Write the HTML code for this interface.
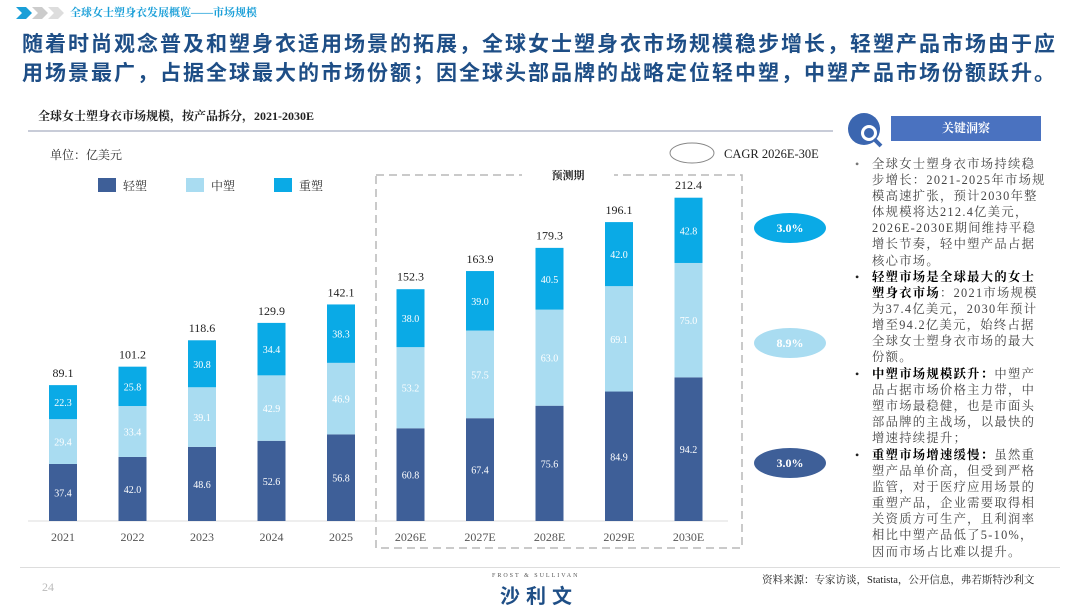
<!DOCTYPE html>
<html><head><meta charset="utf-8">
<style>
body{margin:0;width:1080px;height:608px;background:#fff;overflow:hidden;position:relative;font-family:"Liberation Serif","Noto Serif CJK SC",serif;}
.abs{position:absolute;}
.ins{position:absolute;left:872px;font-size:12.3px;line-height:16.1px;color:#444;letter-spacing:1.3px;white-space:nowrap;}
.bul{position:absolute;left:855px;font-size:12px;color:#222;}
</style></head><body>
<div class="abs" style="left:16px;top:6px;">
<svg width="50" height="14"><polygon points="0,1 10,1 16,7 10,13 0,13 6,7" fill="#1a9fd8"/><polygon points="16,1 26,1 32,7 26,13 16,13 22,7" fill="#ccc"/><polygon points="32,1 42,1 48,7 42,13 32,13 38,7" fill="#ddd"/></svg></div>
<div class="abs" style="left:70px;top:4px;font-size:11px;color:#1a9fd8;font-weight:bold;">全球女士塑身衣发展概览——市场规模</div>
<div class="abs" style="left:22px;top:30px;white-space:nowrap;font-size:21px;line-height:29px;color:#1e4e86;font-weight:bold;letter-spacing:2px;font-family:'Liberation Sans','Noto Sans CJK SC',sans-serif;">随着时尚观念普及和塑身衣适用场景的拓展，全球女士塑身衣市场规模稳步增长，轻塑产品市场由于应<br>用场景最广，占据全球最大的市场份额；因全球头部品牌的战略定位轻中塑，中塑产品市场份额跃升。</div>
<div class="abs" style="left:38px;top:107px;font-size:12px;font-weight:bold;color:#222;">全球女士塑身衣市场规模，按产品拆分，2021-2030E</div>
<div class="abs" style="left:28px;top:130px;width:805px;height:2px;background:#c8ccd8;"></div>
<div class="abs" style="left:50px;top:146px;font-size:12px;color:#333;">单位：亿美元</div>

<svg class="abs" style="left:0;top:0" width="830" height="608" id="chart"></svg>

<div class="abs" style="left:847px;top:112px;">
<svg width="40" height="36"><circle cx="17" cy="17" r="16" fill="#3b66b0"/><circle cx="22" cy="21" r="8" fill="#fff"/><circle cx="22" cy="21" r="5" fill="#3b66b0"/><line x1="27" y1="27" x2="34" y2="34" stroke="#3b66b0" stroke-width="4"/></svg></div>
<div class="abs" style="left:891px;top:116px;width:150px;height:25px;background:#4a72c0;color:#fff;font-size:12px;font-weight:bold;text-align:center;line-height:25px;">关键洞察</div>
<div>
<div class="bul" style="top:157px;color:#777">•</div>
<div class="ins" style="top:156px;">全球女士塑身衣市场持续稳<br>步增长：2021-2025年市场规<br>模高速扩张，预计2030年整<br>体规模将达212.4亿美元，<br>2026E-2030E期间维持平稳<br>增长节奏，轻中塑产品占据<br>核心市场。</div>
<div class="bul" style="top:270px;">•</div>
<div class="ins" style="top:269px;"><b style="color:#000">轻塑市场是全球最大的女士<br>塑身衣市场</b>：2021市场规模<br>为37.4亿美元，2030年预计<br>增至94.2亿美元，始终占据<br>全球女士塑身衣市场的最大<br>份额。</div>
<div class="bul" style="top:367px;">•</div>
<div class="ins" style="top:366px;"><b style="color:#000">中塑市场规模跃升：</b>中塑产<br>品占据市场价格主力带，中<br>塑市场最稳健，也是市面头<br>部品牌的主战场，以最快的<br>增速持续提升；</div>
<div class="bul" style="top:448px;">•</div>
<div class="ins" style="top:447px;"><b style="color:#000">重塑市场增速缓慢：</b>虽然重<br>塑产品单价高，但受到严格<br>监管，对于医疗应用场景的<br>重塑产品，企业需要取得相<br>关资质方可生产，且利润率<br>相比中塑产品低了5-10%，<br>因而市场占比难以提升。</div>
</div>
<div class="abs" style="left:20px;top:567px;width:1040px;height:1px;background:#ddd;"></div>
<div class="abs" style="left:42px;top:580px;font-size:12px;color:#bbb;">24</div>
<div class="abs" style="left:492px;top:573px;font-size:6px;letter-spacing:2px;color:#555;">FROST &amp; SULLIVAN</div>
<div class="abs" style="left:500px;top:580px;font-size:20px;font-weight:bold;color:#1e4e86;letter-spacing:6px;font-family:'Liberation Sans','Noto Sans CJK SC',sans-serif;">沙利文</div>
<div class="abs" style="left:762px;top:572px;font-size:10.5px;color:#222;">资料来源：专家访谈，Statista，公开信息，弗若斯特沙利文</div>

<script>
const years=["2021","2022","2023","2024","2025","2026E","2027E","2028E","2029E","2030E"];
const light=[37.4,42.0,48.6,52.6,56.8,60.8,67.4,75.6,84.9,94.2];
const medium=[29.4,33.4,39.1,42.9,46.9,53.2,57.5,63.0,69.1,75.0];
const heavy=[22.3,25.8,30.8,34.4,38.3,38.0,39.0,40.5,42.0,42.8];
const totals=[89.1,101.2,118.6,129.9,142.1,152.3,163.9,179.3,196.1,212.4];
const cagrLabels=["3.0%","8.9%","3.0%"];
const seriesNames=["轻塑","中塑","重塑"];
const colors=["#3e5f98","#a9dcf1","#0aaae6"];
const NS="http://www.w3.org/2000/svg";
const svg=document.getElementById('chart');
const baseY=521, pxPer=1.525;
const x=i=>63+i*69.5;
const y=v=>baseY-v*pxPer;
const bw=28;
function mk(t,a){const e=document.createElementNS(NS,t);for(const k in a)e.setAttribute(k,a[k]);svg.appendChild(e);return e;}
let e=mk('rect',{x:376,y:175,width:366,height:373,fill:'none',stroke:'#b8b8b8','stroke-width':1.5,'stroke-dasharray':'8,5'});


e=mk('rect',{x:522,y:168,width:92,height:14,fill:'#fff'});
e=mk('text',{x:568,y:179,'font-size':11,'font-weight':'bold','text-anchor':'middle',fill:'#222'});e.textContent='预测期';


e=mk('line',{x1:28,y1:baseY,x2:728,y2:baseY,stroke:'#ddd','stroke-width':1});


const series=[light,medium,heavy];
years.forEach((yr,i)=>{
  let acc=0;
  series.forEach((s,k)=>{
    const v=s[i];
    const r=mk('rect',{x:x(i)-bw/2,y:y(acc+v),width:bw,height:v*pxPer,fill:colors[k]});
    
    
    const t=mk('text',{x:x(i),y:y(acc+v/2)+4,'font-size':10,'text-anchor':'middle',fill:'#fff'});
    t.textContent=v.toFixed(1);
    
    
    acc+=v;
  });
  const tt=mk('text',{x:x(i),y:y(totals[i])-8,'font-size':12,'text-anchor':'middle',fill:'#222'});
  tt.textContent=totals[i].toFixed(1);
  
  
  const xl=mk('text',{x:x(i),y:541,'font-size':12,'text-anchor':'middle',fill:'#555'});
  xl.textContent=yr;
  
  
});
seriesNames.forEach((n,k)=>{
  const lx=98+k*88;
  const r=mk('rect',{x:lx,y:178,width:18,height:14,fill:colors[k]});
  
  
  const t=mk('text',{x:lx+25,y:190,'font-size':12,fill:'#333'});t.textContent=n;
  
  
});
e=mk('ellipse',{cx:692,cy:153,rx:22,ry:10,fill:'none',stroke:'#888'});


e=mk('text',{x:724,y:158,'font-size':12.5,fill:'#222'});e.textContent='CAGR  2026E-30E';


const bubbleColors=["#0aaae6","#a9dcf1","#3e5f98"];
const bubbleY=[228,343,463];
cagrLabels.forEach((c,k)=>{
  const b=mk('ellipse',{cx:790,cy:bubbleY[k],rx:36,ry:15,fill:bubbleColors[k]});
  
  
  const t=mk('text',{x:790,y:bubbleY[k]+4,'font-size':12,'font-weight':'bold','text-anchor':'middle',fill:'#fff'});t.textContent=c;
  
  
});
</script>
</body></html>
